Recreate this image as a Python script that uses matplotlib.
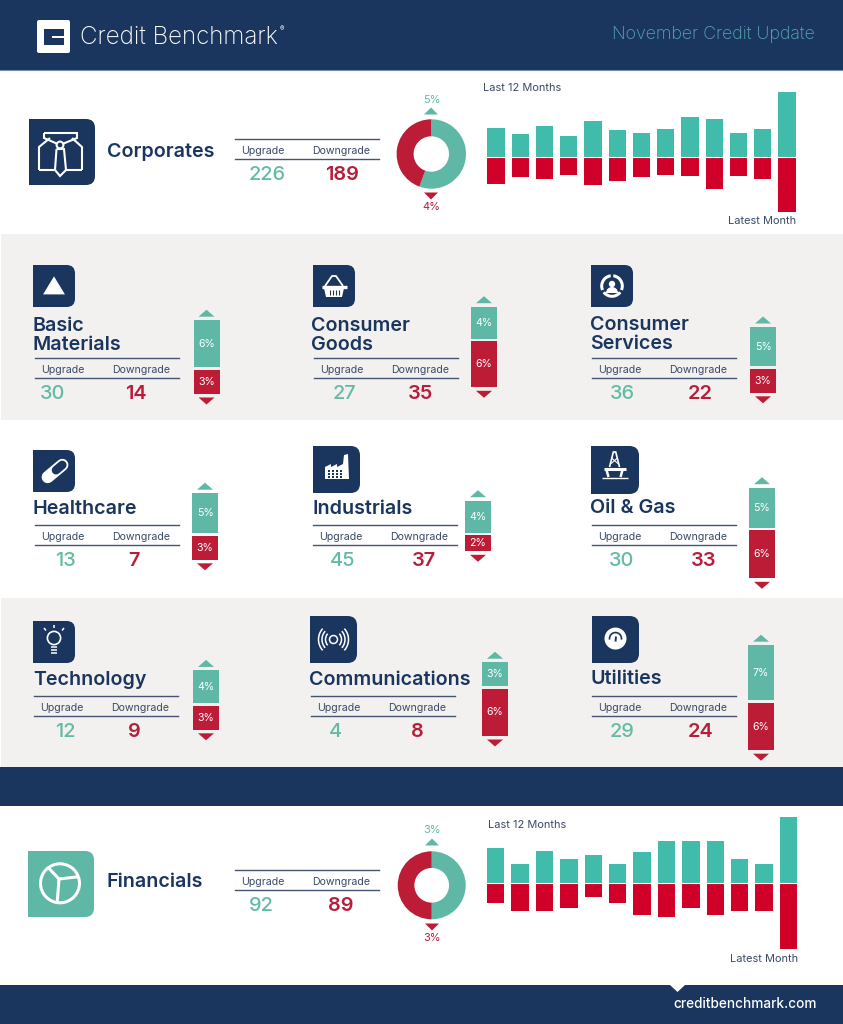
#!/usr/bin/env python
import matplotlib
matplotlib.use("Agg")
import matplotlib.pyplot as plt
from matplotlib.patches import Rectangle, Circle, Polygon, PathPatch, Wedge, FancyBboxPatch, Arc
from matplotlib.path import Path

W, H = 843, 1024
NAVY = "#1A355E"
GREY = "#F2F1EF"
TEAL = "#5FB8A6"
RED = "#BC1C36"
BAR_TEAL = "#41BBAA"
BAR_RED = "#D10028"
NUM_TEAL = "#63BBA5"
NUM_RED = "#B71E3C"
TXT = "#3A4A68"

plt.rcParams["font.family"] = ["Inter", "DejaVu Sans"]

# corporates
corp_up = [2.25, 1.76, 2.4, 1.63, 2.77, 2.04, 1.84, 2.17, 3.1, 2.9, 1.84, 2.17, 5.0]
corp_down = [2.12, 1.55, 1.76, 1.4, 2.2, 1.91, 1.55, 1.4, 1.47, 2.48, 1.47, 1.71, 4.29]
corp_share = [5, 4]
corp_counts = [226, 189]

# financials
fin_up = [1.6, 0.9, 1.49, 1.1, 1.3, 0.9, 1.41, 1.91, 1.91, 1.91, 1.1, 0.9, 3.0]
fin_down = [0.91, 1.24, 1.24, 1.12, 0.6, 0.91, 1.45, 1.55, 1.12, 1.45, 1.24, 1.24, 2.97]
fin_share = [3, 3]
fin_counts = [92, 89]

# sectors
sectors = ["Basic\nMaterials", "Consumer\nGoods", "Consumer\nServices",
           "Healthcare", "Industrials", "Oil & Gas",
           "Technology", "Communications", "Utilities"]
upgrades = [30, 27, 36, 13, 45, 30, 12, 4, 29]
downgrades = [14, 35, 22, 7, 37, 33, 9, 8, 24]
up_pct = [5.9, 4.0, 4.9, 5.0, 4.0, 5.0, 4.1, 3.0, 6.9]
down_pct = [3.0, 5.75, 3.0, 3.0, 2.0, 6.0, 3.0, 5.9, 5.9]

# layout, in pixels of the picture
title_xy = [(33, 334), (311, 334), (590, 333), (33, 508), (312, 508), (590, 507),
            (33, 679), (309, 679), (590, 678)]
table_x = [35, 314, 592, 35, 313, 592, 34, 311, 592]
table_y = [358, 358, 358, 525, 525, 525, 696, 696, 696]
num_x = [(53, 136), (344, 421), (622, 700), (65, 134), (343, 424), (622, 704),
         (65, 134), (335, 417), (622, 701)]
bar_x = [206.5, 484, 763, 205, 478, 762, 206, 495, 761]
bar_y = [368.7, 340, 367.5, 534.5, 534, 529, 704.5, 687.5, 701.7]
icon_box = [(33, 265, 42), (313, 265, 42), (591, 265, 42), (33, 450, 42), (313, 446, 47),
            (591, 446, 48), (33, 621, 42), (310, 616, 47), (592, 616, 47)]

fig = plt.figure(figsize=(W / 100, H / 100), dpi=100)
ax = fig.add_axes([0, 0, 1, 1])
ax.set_xlim(0, W)
ax.set_ylim(H, 0)
ax.axis("off")


def px_axes(x0, y0, x1, y1):
    a = fig.add_axes([x0 / W, 1 - y1 / H, (x1 - x0) / W, (y1 - y0) / H])
    a.axis("off")
    a.patch.set_alpha(0)
    return a


def band(y0, y1, color, x0=0):
    ax.add_patch(Rectangle((x0, y0), W - x0, y1 - y0, fc=color, ec="none", zorder=0))


def label(x, y, s, size, color=TXT, weight="normal", ha="center"):
    ax.text(x, y + 1.3, s, fontsize=size * 0.72, color=color, fontweight=weight,
            ha=ha, va="center", zorder=6)


def tri(x, y, w, h, color, up=True):
    d = -h / 2 if up else h / 2
    ax.add_patch(Polygon([(x - w / 2, y - d), (x + w / 2, y - d), (x, y + d)],
                         fc=color, ec="none", zorder=5))


def rbox(x, y, s, color, r=None):
    r = r or s * 0.2
    verts = [(x, y), (x + s - r, y), (x + s, y), (x + s, y + r), (x + s, y + s - r),
             (x + s, y + s), (x + s - r, y + s), (x, y + s), (x, y)]
    codes = [Path.MOVETO, Path.LINETO, Path.CURVE3, Path.CURVE3, Path.LINETO,
             Path.CURVE3, Path.CURVE3, Path.LINETO, Path.CLOSEPOLY]
    ax.add_patch(PathPatch(Path(verts, codes), fc=color, ec="none", zorder=2))


def table(x, y, gap, lab_x, nums_x, up, down):
    for yy in (y, y + gap):
        ax.plot([x, x + 144], [yy, yy], color="#46556F", lw=1.0, zorder=3)
    label(lab_x[0], y + 10.5, "Upgrade", 10.6)
    label(lab_x[1], y + 10.5, "Downgrade", 10.6)
    label(nums_x[0], y + gap + 15, str(up), 20, NUM_TEAL, "medium")
    label(nums_x[1], y + gap + 15, str(down), 20, NUM_RED, "semibold")


def month_bars(x_first, step, base, top, bottom, up, down, scale):
    x0 = x_first - step / 2
    a = px_axes(x0, top, x0 + step * 13, bottom)
    a.set_xlim(-0.5, 12.5)
    a.set_ylim((base - bottom) / scale, (base - top) / scale)
    a.bar(range(len(up)), up, width=0.71, color=BAR_TEAL)
    a.bar(range(len(down)), [-v for v in down], width=0.71, color=BAR_RED)
    a.axhline(0, color="white", lw=0.8)


def donut(cx, cy, r, share):
    a = px_axes(cx - r, cy - r, cx + r, cy + r)
    a.pie(share, colors=[TEAL, RED], startangle=90, counterclock=False, radius=1,
          wedgeprops=dict(width=0.49, linewidth=0))
    a.set_xlim(-1, 1)
    a.set_ylim(-1, 1)


def sector_bar(cx, base, up, down):
    scale = 8.0
    a = px_axes(cx - 13, base - 70, cx + 13, base + 70)
    a.set_xlim(-0.5, 0.5)
    a.set_ylim(-70 / scale, 70 / scale)
    off = 1.3 / scale
    a.bar(0, up, bottom=off, width=1, color=TEAL)
    a.bar(0, -down, bottom=-off, width=1, color=RED)
    a.text(0, off + up / 2, "%d%%" % round(up), color="white", fontsize=7.6, ha="center", va="center")
    a.text(0, -off - down / 2, "%d%%" % round(down), color="white", fontsize=7.6, ha="center", va="center")
    tri(cx, base - up * scale - 1.3 - 7, 16, 7, TEAL, True)
    tri(cx, base + down * scale + 1.3 + 7, 16, 7, RED, False)


# icons, white on the box
def line(pts, lw=1.5, color="white", close=False, cap="butt", z=4):
    if close:
        pts = pts + pts[:1]
    ax.plot([p[0] for p in pts], [p[1] for p in pts], color=color, lw=lw, zorder=z,
            solid_joinstyle="miter", solid_capstyle=cap)


def icon_shirt():
    line([(39, 170), (39, 147), (50, 138)])
    line([(82, 170), (82, 147), (72, 138)])
    line([(39, 170), (55, 170)])
    line([(65, 170), (82, 170)])
    line([(44, 133), (77, 133), (77, 138), (60, 145), (44, 138)], close=True)
    ax.add_patch(Circle((60, 145), 3.4, fc=NAVY, ec="white", lw=1.5, zorder=5))
    line([(56.5, 149), (64, 149), (66, 170), (60, 176), (55, 170)], close=True)


def icon_triangle(x, y, s):
    ax.add_patch(Polygon([(x + s * .5, y + s * .27), (x + s * .76, y + s * .7), (x + s * .24, y + s * .7)],
                         fc="white", ec="none", zorder=4))


def icon_basket(x, y, s):
    cx = x + s * .5
    ax.add_patch(Polygon([(cx - 10, y + 23), (cx + 10, y + 23), (cx + 8, y + 32), (cx - 8, y + 32)],
                         fc="white", ec="none", zorder=4))
    line([(cx - 12.5, y + 22), (cx + 12.5, y + 22)], 2.4)
    line([(cx - 9, y + 21), (cx - 2, y + 11), (cx + 2, y + 11), (cx + 9, y + 21)], 1.3)
    for dx in (-5, -2, 1, 4):
        line([(cx + dx + .5, y + 25), (cx + dx + .5, y + 30)], 0.8, NAVY, z=5)


def icon_services(x, y, s):
    c = (x + s * .5, y + s * .5)
    ax.add_patch(Circle(c, 11.8, fc="white", ec="none", zorder=3))
    ax.add_patch(Circle(c, 8.8, fc=NAVY, ec="none", zorder=4))
    ax.add_patch(Circle((c[0], c[1] - 2), 3.2, fc="white", ec="none", zorder=5))
    ax.add_patch(Wedge((c[0], c[1] + 7), 6, 180, 360, fc="white", ec="none", zorder=5))
    for ang in (30, 150, 270):
        ax.add_patch(Wedge(c, 12.5, ang - 7, ang + 7, fc=NAVY, ec="none", zorder=4))


def icon_pill(x, y, s):
    cx, cy = x + 22, y + 21
    dx, dy = 7.3, -6.1
    line([(cx - dx, cy - dy), (cx + dx, cy + dy)], 8.8, cap="round")
    line([(cx + 1, cy - 0.8), (cx + dx, cy + dy)], 6.2, NAVY, cap="round", z=5)


def icon_factory(x, y, s):
    pts = [(x + 12, y + 33), (x + 12, y + 21), (x + 18, y + 18), (x + 18, y + 21), (x + 24, y + 18),
           (x + 24, y + 21), (x + 30, y + 18), (x + 31, y + 9), (x + 35, y + 8), (x + 36, y + 33)]
    ax.add_patch(Polygon(pts, fc="white", ec="none", zorder=4))
    for r in (24, 27, 30):
        for c in (15, 19, 23, 27):
            ax.add_patch(Rectangle((x + c, y + r), 1.7, 1.7, fc=NAVY, ec="none", zorder=5))


def icon_rig(x, y, s):
    cx = x + s * .49
    line([(cx - 5, y + 21), (cx - 1.2, y + 6), (cx + 1.2, y + 6), (cx + 5, y + 21)], 1.2)
    line([(cx - 3, y + 12), (cx + 4, y + 18)], 0.8)
    line([(cx + 3, y + 12), (cx - 4, y + 18)], 0.8)
    line([(cx - 11, y + 23), (cx + 11, y + 23)], 2.2)
    line([(cx - 8, y + 24), (cx - 6, y + 31)], 1.8)
    line([(cx + 8, y + 24), (cx + 6, y + 31)], 1.8)
    line([(cx - 13, y + 32), (cx + 13, y + 32)], 1.0)


def icon_bulb(x, y, s):
    cx = x + s * .5
    ax.add_patch(Circle((cx, y + 17), 6.6, fc="none", ec="white", lw=1.2, zorder=4))
    line([(cx - 3, y + 26), (cx + 3, y + 26)], 1.1)
    line([(cx - 3, y + 29), (cx + 3, y + 29)], 1.1)
    line([(cx - 3, y + 32), (cx + 3, y + 32)], 1.1)
    for p, q in [((cx, y + 4), (cx, y + 7)), ((cx - 10, y + 7), (cx - 8, y + 9.5)),
                 ((cx + 10, y + 7), (cx + 8, y + 9.5))]:
        line([p, q], 1.1)


def icon_radio(x, y, s):
    c = (x + s * .5, y + s * .5)
    ax.add_patch(Circle(c, 4, fc="none", ec="white", lw=1.1, zorder=4))
    for d in (16, 23, 30):
        ax.add_patch(Arc(c, d, d * 1.05, theta1=-45, theta2=45, ec="white", lw=1.1, zorder=4))
        ax.add_patch(Arc(c, d, d * 1.05, theta1=135, theta2=225, ec="white", lw=1.1, zorder=4))


def icon_gauge(x, y, s):
    c = (x + s * .5, y + s * .48)
    ax.add_patch(Circle(c, 11, fc="white", ec="none", zorder=4))
    ax.add_patch(Arc(c, 12, 12, theta1=170, theta2=370, ec=NAVY, lw=1.2, zorder=5))
    line([(c[0], c[1] + 3), (c[0] + 0.5, c[1] - 2)], 1.4, NAVY, z=5)


def icon_pie():
    c = (60, 883.3)
    j = (59, 879)
    ax.add_patch(Circle(c, 19.5, fc="none", ec="white", lw=2.2, zorder=4))
    line([j, (48.3, 867.7)], 2.2)
    line([j, (78.3, 876.7)], 2.2)
    line([j, (57.3, 901)], 2.2)


# background
band(0, 70, NAVY)
band(70, 234, "white")
band(234, 420, GREY, 1)
band(420, 598, "white")
band(598, 767, GREY, 1)
band(767, 806, NAVY)
band(806, 985, "white")
band(985, H, NAVY)
ax.plot([0, W], [70, 70], color="#6F8DB5", lw=0.8, zorder=1)

# header
ax.add_patch(FancyBboxPatch((37, 20), 33, 33, boxstyle="round,pad=0,rounding_size=2", fc="white", ec="none", zorder=2))
ax.add_patch(Rectangle((44, 28.5), 19.5, 16.5, fc=NAVY, ec="none", zorder=3))
ax.add_patch(Rectangle((52, 36), 18, 2.4, fc="white", ec="none", zorder=4))
label(80, 35.5, "Credit Benchmark", 24.2, "white", "light", "left")
label(280, 28, "®", 6.5, "white", "normal", "left")
label(815, 33, "November Credit Update", 17.8, "#5AA9B5", "light", "right")

# corporates block
rbox(29, 119, 66, NAVY, 9)
icon_shirt()
label(107, 151, "Corporates", 19.7, NAVY, "semibold", "left")
table(235, 139, 20, (263, 341), (267, 342), *corp_counts)
donut(431.3, 154, 34.7, corp_share)
tri(431, 111, 14, 7, TEAL, True)
tri(431, 196, 14, 7, RED, False)
label(431.5, 99, "%d%%" % corp_share[0], 11, NUM_TEAL)
label(431.5, 206, "%d%%" % corp_share[1], 11, NUM_RED)
label(483, 87, "Last 12 Months", 11, ha="left")
label(796, 220, "Latest Month", 11, ha="right")
month_bars(496, 24.25, 156.7, 85, 220, corp_up, corp_down, 12.9)

# sector blocks
icons = [lambda b: icon_triangle(*b), lambda b: icon_basket(*b), lambda b: icon_services(*b),
         lambda b: icon_pill(*b), lambda b: icon_factory(*b), lambda b: icon_rig(*b),
         lambda b: icon_bulb(*b), lambda b: icon_radio(*b), lambda b: icon_gauge(*b)]
for i, name in enumerate(sectors):
    b = icon_box[i]
    rbox(b[0], b[1], b[2], NAVY)
    icons[i](b)
    tx, ty = title_xy[i]
    parts = name.split("\n")
    if len(parts) == 2:
        label(tx, ty - 9.3, parts[0], 19.7, NAVY, "semibold", "left")
        label(tx, ty + 9.3, parts[1], 19.7, NAVY, "semibold", "left")
    else:
        label(tx, ty, name, 19.7, NAVY, "semibold", "left")
    tb = table_x[i]
    table(tb, table_y[i], 19.5, (tb + 28, tb + 106), num_x[i], upgrades[i], downgrades[i])
    sector_bar(bar_x[i], bar_y[i], up_pct[i], down_pct[i])

# financials block
rbox(28, 851, 66, TEAL, 9)
icon_pie()
label(107, 881, "Financials", 19.7, NAVY, "semibold", "left")
table(235, 870, 20, (263, 341), (261, 341), *fin_counts)
donut(431.7, 885.3, 34, fin_share)
tri(432, 842, 14, 7, TEAL, True)
tri(432, 927, 14, 7, RED, False)
label(432, 829, "%d%%" % fin_share[0], 11, NUM_TEAL)
label(432, 937, "%d%%" % fin_share[1], 11, NUM_RED)
label(488, 824, "Last 12 Months", 11, ha="left")
label(798, 958, "Latest Month", 11, ha="right")
month_bars(495.7, 24.4, 883.3, 810, 955, fin_up, fin_down, 22.0)

# footer
ax.add_patch(Polygon([(670, 985), (685, 985), (677.5, 992)], fc="white", ec="none", zorder=3))
label(817, 1003, "creditbenchmark.com", 13.6, "white", "medium", "right")

fig.savefig("out.png", dpi=100)
